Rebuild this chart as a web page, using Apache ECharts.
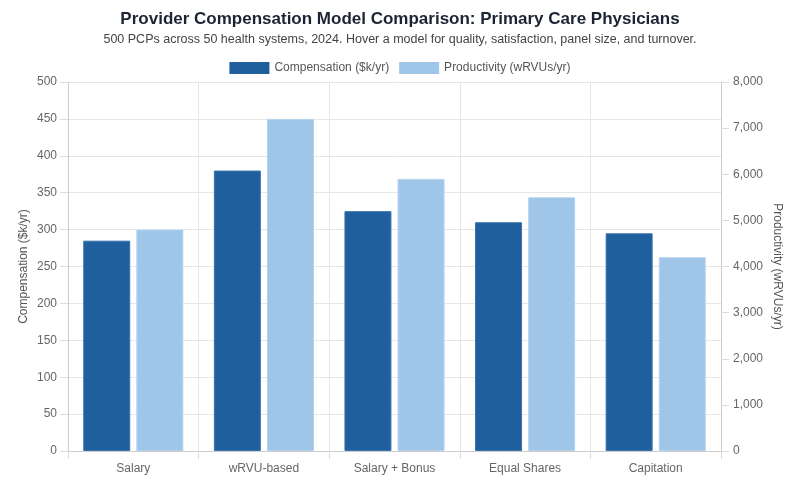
<!DOCTYPE html>
<html lang="en">
<head>
    <meta charset="UTF-8">
    <title>compensation models</title>
    <style>
        html, body, #chart {
            margin: 0;
            padding: 0;
            width: 100%;
            height: 100%;
            overflow: hidden;
            background: #fff;
        }
    </style>
</head>
<body>
    <div id="chart"></div>
    <script src="https://cdn.jsdelivr.net/npm/echarts@6/dist/echarts.min.js"></script>
    <script>
        var models = ["Salary", "wRVU-based", "Salary + Bonus", "Equal Shares", "Capitation"];
        var compensation = [285, 380, 325, 310, 295];   // $k/yr
        var productivity = [4800, 7200, 5900, 5500, 4200]; // wRVUs/yr

        var font = "'Liberation Sans', Arial, sans-serif";
        var chart = echarts.init(document.getElementById('chart'));

        chart.setOption({
            textStyle: { fontFamily: font },
            title: {
                text: "Provider Compensation Model Comparison: Primary Care Physicians",
                subtext: "500 PCPs across 50 health systems, 2024. Hover a model for quality, satisfaction, panel size, and turnover.",
                left: 'center',
                top: 6,
                itemGap: 5,
                textStyle: { fontSize: 17, fontWeight: 'bold', color: '#1c2333', fontFamily: font },
                subtextStyle: { fontSize: 12.5, color: '#444', fontFamily: font }
            },
            legend: {
                top: 57,
                left: 'center',
                itemWidth: 40,
                itemHeight: 12,
                itemGap: 10,
                icon: 'rect',
                itemStyle: { borderWidth: 0 },
                textStyle: { fontSize: 12, color: '#555', fontFamily: font },
                data: ["Compensation ($k/yr)", "Productivity (wRVUs/yr)"]
            },
            grid: { left: 68, right: 79, top: 82, bottom: 43 },
            xAxis: {
                type: 'category',
                data: models,
                axisLine: { lineStyle: { color: '#ccc' } },
                axisTick: { show: true, length: 8, lineStyle: { color: '#ddd' } },
                axisLabel: { color: '#666', fontSize: 12, margin: 12 },
                splitLine: { show: true, lineStyle: { color: '#e6e6e6' } }
            },
            yAxis: [{
                type: 'value',
                min: 0, max: 500, interval: 50,
                name: "Compensation ($k/yr)",
                nameLocation: 'middle',
                nameGap: 38,
                nameMoveOverlap: false,
                nameTextStyle: { color: '#555', fontSize: 12 },
                axisLine: { show: true, lineStyle: { color: '#ccc' } },
                axisTick: { show: true, length: 8, lineStyle: { color: '#ddd' } },
                axisLabel: { color: '#666', fontSize: 12, margin: 11 },
                splitLine: { lineStyle: { color: '#e6e6e6' } }
            }, {
                type: 'value',
                min: 0, max: 8000, interval: 1000,
                name: "Productivity (wRVUs/yr)",
                nameLocation: 'middle',
                nameGap: 50,
                nameRotate: -90,
                nameMoveOverlap: false,
                nameTextStyle: { color: '#555', fontSize: 12 },
                axisLine: { show: true, lineStyle: { color: '#ccc' } },
                axisTick: { show: true, length: 8, lineStyle: { color: '#ddd' } },
                axisLabel: {
                    color: '#666', fontSize: 12, margin: 12,
                    formatter: function (v) { return v.toLocaleString('en-US'); }
                },
                splitLine: { show: false }
            }],
            series: [{
                name: "Compensation ($k/yr)",
                type: 'bar',
                yAxisIndex: 0,
                data: compensation,
                barWidth: 47,
                barGap: '13%',
                itemStyle: { color: '#1f5f9e', borderColor: '#3a74ae', borderWidth: 1 }
            }, {
                name: "Productivity (wRVUs/yr)",
                type: 'bar',
                yAxisIndex: 1,
                data: productivity,
                barWidth: 47,
                itemStyle: { color: '#9fc5e8', borderColor: '#b4d3ee', borderWidth: 1 }
            }]
        });
    </script>
</body>
</html>
